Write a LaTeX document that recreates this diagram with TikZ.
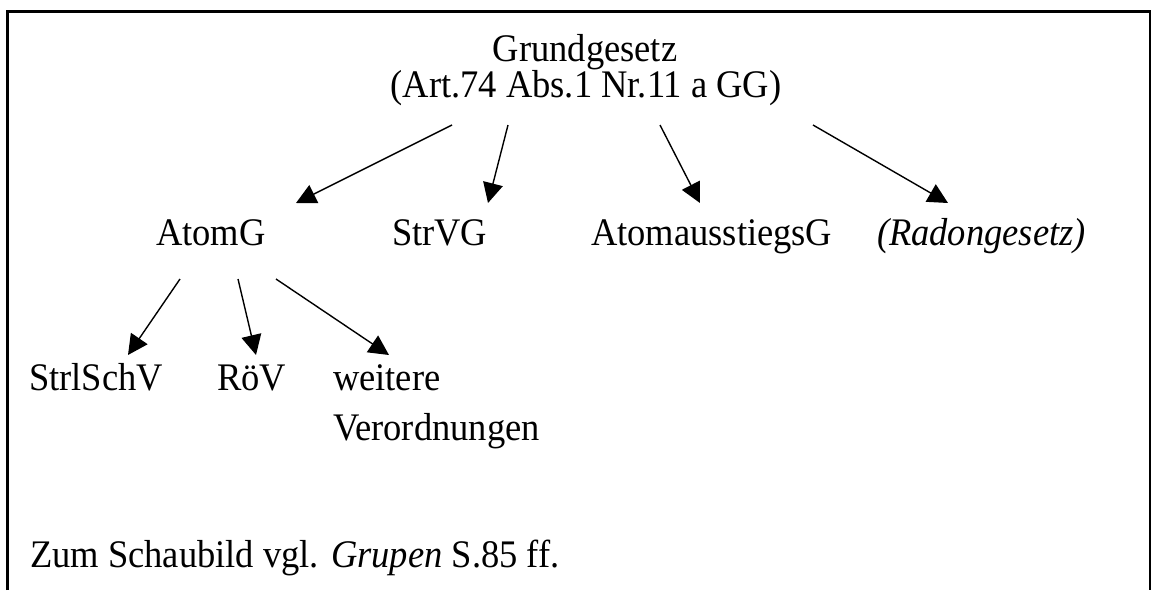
\documentclass[tikz,border=0pt]{standalone}
\usepackage{graphicx}
\usepackage{fontspec}
\setmainfont{Liberation Serif}
\usetikzlibrary{arrows.meta}
% slightly tall lettering
\newcommand\tallt[1]{\scalebox{1}[1.07]{#1}}
\begin{document}
\begin{tikzpicture}[x=1pt,y=-1pt,
  lbl/.style={inner sep=0pt,outer sep=0pt,font=\fontsize{36.5}{44}\selectfont},
  link/.style={line width=1.4pt,-{Triangle[length=20pt,width=20pt]}},
  frame/.style={line width=2.2pt}]
\useasboundingbox (0,0) rectangle (1151,590);
% open frame
\draw[frame] (7.5,590) -- (7.5,11.5) -- (1150,11.5) -- (1150,590);
% text
\node[lbl,anchor=base] (gg) at (585,61) {\tallt{Grundgesetz}};
\node[lbl,anchor=base] (art) at (586,97) {\tallt{(Art.74 Abs.1 Nr.11 a GG)}};
\node[lbl,anchor=base west] (atomg) at (156,245) {\tallt{AtomG}};
\node[lbl,anchor=base west] (strvg) at (392,245) {\tallt{StrVG}};
\node[lbl,anchor=base west] (ausst) at (591,245) {\tallt{AtomausstiegsG}};
\node[lbl,anchor=base west] (radon) at (877,245) {\tallt{\itshape (Radongesetz)}};
\node[lbl,anchor=base west] (strl) at (29,390) {\tallt{StrlSchV}};
\node[lbl,anchor=base west] (roev) at (217,390) {\tallt{RöV}};
\node[lbl,anchor=base west] (weit) at (333,390) {\tallt{weitere}};
\node[lbl,anchor=base west] (verord) at (333,440) {\tallt{Verordnungen}};
\node[lbl,anchor=base west] (note) at (30,567) {\tallt{Zum Schaubild vgl. \textit{Grupen} S.85 ff.}};
% arrow ends
\coordinate (s1) at (452,125); \coordinate (e1) at (296,203);
\coordinate (s2) at (508,125); \coordinate (e2) at (488,203);
\coordinate (s3) at (660,125); \coordinate (e3) at (700,203);
\coordinate (s4) at (813,125); \coordinate (e4) at (948,203);
\coordinate (s5) at (180,279); \coordinate (e5) at (128,355);
\coordinate (s6) at (238,279); \coordinate (e6) at (256,355);
\coordinate (s7) at (276,279); \coordinate (e7) at (389,355);
\foreach \i in {1,...,7} {\draw[link] (s\i) -- (e\i);}
\end{tikzpicture}
\end{document}
